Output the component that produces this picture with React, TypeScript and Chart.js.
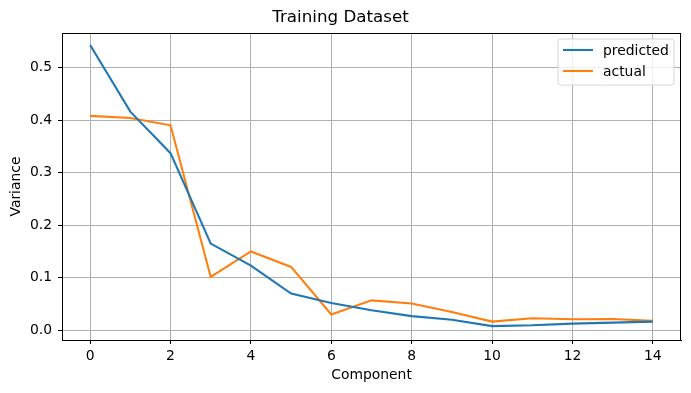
import React, { useEffect, useRef } from "react";
import { Chart, registerables } from "chart.js";

Chart.register(...registerables);

const components = [0, 1, 2, 3, 4, 5, 6, 7, 8, 9, 10, 11, 12, 13, 14];
const predicted = [0.543, 0.416, 0.337, 0.165, 0.123, 0.07, 0.052, 0.038, 0.027, 0.02, 0.008, 0.0095, 0.0127, 0.0146, 0.0165];
const actual = [0.408, 0.404, 0.39, 0.1015, 0.15, 0.1206, 0.03, 0.057, 0.051, 0.035, 0.0165, 0.0228, 0.021, 0.0215, 0.018];
const xTicks = [0, 2, 4, 6, 8, 10, 12, 14];
const yTicks = [0, 0.1, 0.2, 0.3, 0.4, 0.5];

const FONT = "'DejaVu Sans', sans-serif";

const framePlugin = {
  id: "frame",
  afterDatasetsDraw(chart: any) {
    const { ctx, chartArea: a } = chart;
    ctx.save();
    ctx.strokeStyle = "#000";
    ctx.lineWidth = 1;
    ctx.strokeRect(Math.round(a.left) + 0.5, Math.round(a.top) + 0.5, Math.round(a.right - a.left) - 1, Math.round(a.bottom - a.top));
    ctx.restore();
  },
};

const legendPlugin = {
  id: "mplLegend",
  afterDraw(chart: any) {
    const { ctx } = chart;
    const x = 558, y = 39, w = 116, h = 46;
    ctx.save();
    ctx.beginPath();
    const r = 3;
    ctx.moveTo(x + r, y);
    ctx.arcTo(x + w, y, x + w, y + h, r);
    ctx.arcTo(x + w, y + h, x, y + h, r);
    ctx.arcTo(x, y + h, x, y, r);
    ctx.arcTo(x, y, x + w, y, r);
    ctx.closePath();
    ctx.fillStyle = "rgba(255,255,255,0.8)";
    ctx.fill();
    ctx.strokeStyle = "rgba(204,204,204,0.8)";
    ctx.lineWidth = 1;
    ctx.stroke();
    chart.data.datasets.forEach((ds: any, i: number) => {
      const ly = 50 + i * 21;
      ctx.beginPath();
      ctx.strokeStyle = ds.borderColor;
      ctx.lineWidth = 2.1;
      ctx.moveTo(563, ly);
      ctx.lineTo(593, ly);
      ctx.stroke();
      ctx.fillStyle = "#000";
      ctx.font = `13.9px ${FONT}`;
      ctx.textBaseline = "middle";
      ctx.textAlign = "left";
      ctx.fillText(ds.label, 603, ly + 1);
    });
    ctx.restore();
  },
};

export default function App() {
  const ref = useRef<HTMLCanvasElement>(null);
  useEffect(() => {
    const chart = new Chart(ref.current as HTMLCanvasElement, {
      type: "line",
      data: {
        datasets: [
          {
            label: "predicted",
            data: components.map((c, i) => ({ x: c, y: predicted[i] })),
            borderColor: "#1f77b4",
            backgroundColor: "#1f77b4",
            borderWidth: 2.1,
            pointRadius: 0,
            tension: 0,
          },
          {
            label: "actual",
            data: components.map((c, i) => ({ x: c, y: actual[i] })),
            borderColor: "#ff7f0e",
            backgroundColor: "#ff7f0e",
            borderWidth: 2.1,
            pointRadius: 0,
            tension: 0,
          },
        ],
      },
      options: {
        responsive: false,
        animation: false,
        layout: { padding: { left: 0, right: 10, top: 0, bottom: 0 } },
        plugins: {
          legend: { display: false },
          tooltip: { enabled: false },
          title: {
            display: true,
            text: "Training Dataset",
            color: "#000",
            font: { family: FONT, size: 16.7, weight: "normal" },
            padding: { top: 8, bottom: 5 },
          },
        },
        scales: {
          x: {
            type: "linear",
            min: -0.7,
            max: 14.7,
            afterBuildTicks: (s: any) => {
              s.ticks = xTicks.map((v) => ({ value: v }));
            },
            afterFit: (s: any) => {
              s.height = 53;
            },
            ticks: {
              color: "#000",
              font: { family: FONT, size: 13.9 },
              padding: 4,
              maxRotation: 0,
              callback: (v: any) => String(v),
            },
            grid: { color: "#b0b0b0", lineWidth: 1, tickColor: "#000", tickLength: 4, tickWidth: 1 },
            border: { display: true, color: "#000", width: 1 },
            title: {
              display: true,
              text: "Component",
              color: "#000",
              font: { family: FONT, size: 13.9 },
              padding: { top: 0, bottom: 9 },
            },
          },
          y: {
            type: "linear",
            min: -0.01845,
            max: 0.5656,
            afterBuildTicks: (s: any) => {
              s.ticks = yTicks.map((v) => ({ value: v }));
            },
            afterFit: (s: any) => {
              s.width = 62;
            },
            ticks: {
              color: "#000",
              font: { family: FONT, size: 13.9 },
              padding: 6,
              callback: (v: any) => Number(v).toFixed(1),
            },
            grid: { color: "#b0b0b0", lineWidth: 1, tickColor: "#000", tickLength: 4, tickWidth: 1 },
            border: { display: true, color: "#000", width: 1 },
            title: {
              display: true,
              text: "Variance",
              color: "#000",
              font: { family: FONT, size: 13.9 },
              padding: { top: 7.7, bottom: 0 },
            },
          },
        },
      },
      plugins: [framePlugin, legendPlugin],
    } as any);
    return () => chart.destroy();
  }, []);
  return (
    <div style={{ position: "absolute", left: 0, top: 0, width: 691, height: 393 }}>
      <canvas ref={ref} width={691} height={393} style={{ width: 691, height: 393, display: "block" }} />
    </div>
  );
}
